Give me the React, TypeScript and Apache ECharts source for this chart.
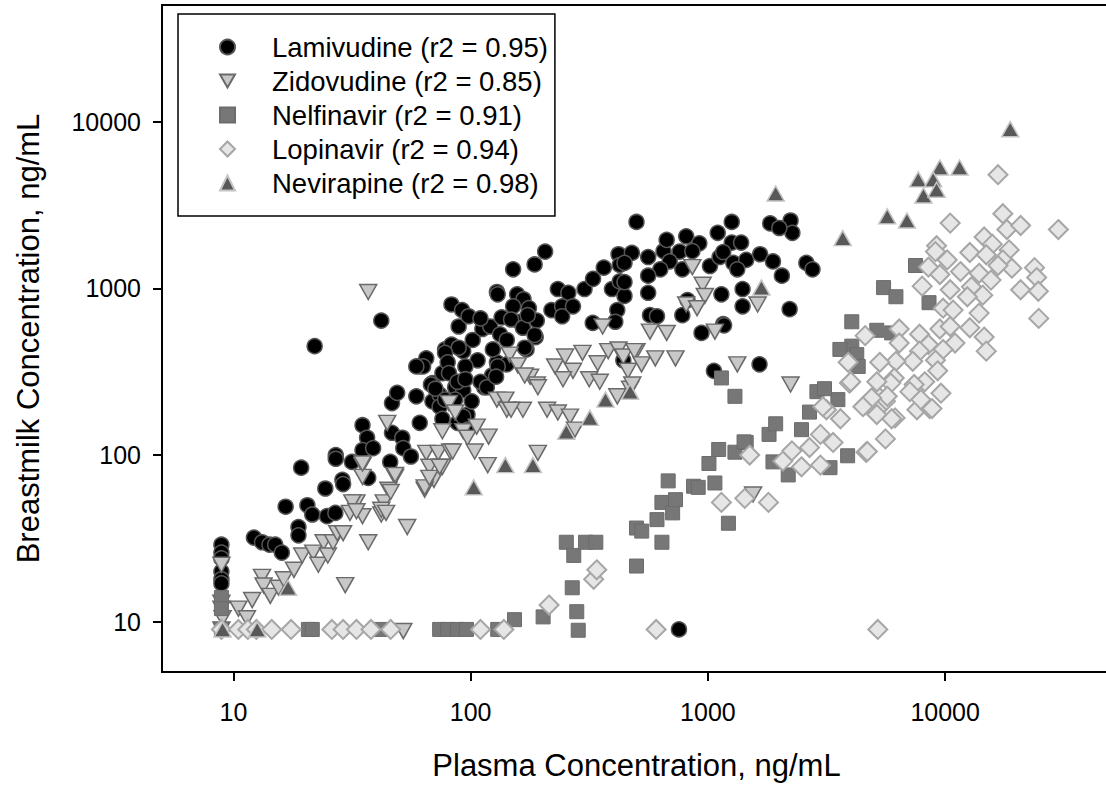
import React, { useEffect, useRef } from "react";
import * as echarts from "echarts";

// [plasma ng/mL, breastmilk ng/mL]
const lamivudine: [number, number][] = [
  [8.9, 29], [8.9, 26], [8.9, 24], [8.9, 20], [8.9, 18], [8.9, 17],
  [12.2, 32], [13.2, 30], [14.2, 29], [15, 29], [16, 26], [16.6, 49], [18.8, 37], [18.8, 33], [19.3, 84],
  [20.5, 50], [21.5, 44], [22, 450], [24.4, 63], [24.8, 43], [26.9, 45], [27, 100], [27, 95], [28.8, 71],
  [29, 67], [31.6, 91], [35, 151], [36.6, 127], [35, 107], [37, 73], [38.8, 110], [42, 640], [45.8, 91],
  [46.6, 205], [46.6, 136], [49, 236], [51.5, 127], [52, 110], [56, 98], [59, 225], [61, 156], [61, 340],
  [65, 380], [69, 270], [69, 210], [74, 230], [76, 310], [78, 430], [83, 800], [83, 460], [86, 255],
  [88, 156], [89, 590], [92, 740], [93, 420], [93, 245], [97, 175], [98, 680], [101, 210], [102, 490],
  [107, 370], [112, 570], [114, 255], [121, 590], [123, 300], [129, 360], [129, 950], [133, 530],
  [135, 670], [142, 490], [151, 1300], [157, 920], [161, 630], [167, 860], [172, 430], [176, 760],
  [186, 1390], [188, 510], [190, 640],
  [206, 1660], [130, 920], [151, 780], [233, 990], [258, 940], [219, 740], [243, 780], [243, 680],
  [270, 780], [302, 990], [328, 1140], [364, 1330], [420, 1600], [425, 1380], [478, 1630], [394, 990],
  [425, 1100], [445, 900], [415, 740], [407, 630], [327, 620], [440, 370], [500, 2500], [110, 660],
  [148, 650], [166, 580], [186, 525], [174, 690], [169, 440], [142, 350], [130, 340], [124, 430],
  [110, 275], [117, 255], [128, 295], [95, 340], [89, 440], [78, 410], [80, 360], [81, 310], [88, 275],
  [95, 285], [68, 265], [63, 340], [59, 340], [71, 250], [74, 195], [78, 215], [86, 215], [76, 165],
  [93, 170], [97, 142],
  [560, 1540], [650, 1670], [670, 1950], [810, 2050], [920, 1860], [760, 1660], [860, 1670], [690, 1450],
  [780, 1300], [630, 1300], [560, 1190], [560, 940], [445, 1420], [445, 1090], [570, 690], [610, 680],
  [780, 690], [820, 850], [1020, 1360], [1120, 1540], [1100, 2150], [1260, 2500], [1260, 1880],
  [1380, 1880], [1160, 1650], [1280, 1420], [1450, 1480], [1660, 1600], [1880, 1450], [2050, 1190],
  [1830, 2450], [2230, 2550], [2270, 2150], [2000, 2300], [2600, 1420], [2760, 1300], [1330, 1300],
  [1400, 990], [1140, 920], [1400, 780], [2210, 750], [940, 540], [1160, 610], [1060, 320], [1650, 350],
  [1170, 600], [755, 9],
];

const zidovudine: [number, number][] = [
  [37, 950], [44.5, 156], [35, 87], [35, 74], [48, 74], [45, 62], [33, 52], [35, 43], [43, 52], [42, 44],
  [54, 37], [65, 103], [67, 85], [70, 71], [64, 62], [73, 103], [76, 85], [81, 205], [82, 105], [86, 180],
  [76, 139], [93, 139], [97, 127], [104, 105], [106, 148], [118, 87], [119, 129], [129, 215], [142, 187],
  [146, 400], [158, 345], [166, 187], [178, 295], [190, 265], [192, 103], [210, 187],
  [8.9, 22], [8.9, 13], [8.9, 12], [9, 10.5], [10.5, 12], [11.4, 10.5], [12, 13.5], [13.2, 18.6],
  [13.4, 16.5], [14.3, 14.3], [15.5, 16], [16.3, 18], [18, 20.5], [19.5, 25], [21.7, 26], [22.8, 22],
  [24, 30], [25, 25], [26.3, 30], [27.4, 34], [29, 34], [29.6, 16.6], [31, 45], [31.7, 52], [33, 46],
  [35, 89], [37, 30], [42, 47], [44, 45], [46, 60], [48, 76], [52, 8.8], [64, 64], [67, 73], [74, 85],
  [84, 105],
  [360, 590], [169, 300], [192, 255], [227, 340], [250, 390], [270, 320], [245, 285], [296, 410],
  [316, 285], [350, 275], [343, 355], [380, 420], [420, 430], [440, 390], [460, 320], [500, 420],
  [415, 225], [470, 250], [140, 215], [148, 187], [233, 180], [262, 170], [275, 142],
  [860, 1340], [950, 1050], [970, 900], [810, 800], [900, 760], [1620, 800], [1070, 550], [570, 550],
  [670, 540], [490, 420], [600, 380], [730, 380], [525, 350], [1330, 350], [2230, 265], [480, 265],
  [1550, 58], [8.9, 9],
];

const nelfinavir: [number, number][] = [
  [8.9, 14], [8.9, 12], [8.9, 9], [20.7, 9], [21.5, 9], [42, 9], [74, 9], [80, 9], [88, 9], [96, 9],
  [130, 9], [153, 10.3], [202, 10.7], [280, 11.5], [284, 8.9], [268, 16], [253, 30], [272, 25], [305, 30],
  [337, 30], [500, 36.5], [500, 21.6], [526, 35], [610, 41], [640, 30], [640, 52], [680, 70], [710, 45],
  [730, 54], [870, 65], [910, 64], [1070, 68], [1010, 89], [1110, 108], [1300, 104], [1450, 119],
  [1220, 39], [1810, 133], [1930, 154], [1880, 91], [2180, 76], [2480, 142], [2680, 181], [3270, 84],
  [3880, 99], [3530, 215], [2880, 240], [3100, 250], [1300, 225], [1140, 290], [1420, 120],
  [7500, 1370], [5500, 1010], [6200, 890], [8550, 820], [4040, 630], [5150, 560], [5950, 540],
  [4040, 450], [3600, 430], [4240, 400], [4300, 340],
];

const lopinavir: [number, number][] = [
  [8.9, 9], [10.5, 9], [11.5, 9], [12.5, 9], [14.5, 9], [17.5, 9], [26, 9], [29, 9], [33, 9], [38, 9],
  [46, 9], [110, 9], [138, 9], [605, 9], [5200, 9],
  [214, 12.6], [330, 18], [340, 20.5], [1140, 52], [1430, 55], [1800, 52], [1500, 100], [2070, 92],
  [2480, 85], [2260, 106], [2680, 111], [2980, 87], [2980, 133], [3370, 119], [3160, 187], [3620, 165],
  [4640, 104], [5600, 125], [6150, 167], [7600, 187], [8600, 190], [9600, 235], [4600, 200], [5150, 230],
  [5600, 210], [3950, 270], [3050, 195], [5150, 187], [5950, 165],
  [10500, 2460], [17500, 2800], [18200, 2250], [20800, 2380], [30000, 2250], [9200, 1800], [9100, 1660],
  [10200, 1480], [8500, 1340], [9500, 1210], [8000, 1030], [10500, 980], [11600, 1260], [12700, 1640],
  [14600, 2030], [15800, 1840], [14900, 1590], [18600, 1700], [17500, 1480], [19100, 1320], [16700, 1370],
  [13900, 1230], [15600, 1120], [12900, 1020], [14400, 910], [12400, 890], [23800, 1330], [24300, 1160],
  [20800, 980], [24700, 960], [24800, 660], [9800, 760], [10800, 740], [13900, 710], [12700, 580],
  [14600, 510], [14900, 420], [11000, 470], [9500, 570], [10500, 590], [7800, 530], [8500, 460],
  [9800, 430], [6400, 570], [6400, 470], [7800, 420], [9100, 370], [9300, 320], [7300, 365], [6200, 365],
  [5300, 360], [4600, 520], [3900, 360], [6100, 290], [8200, 275], [7400, 265], [7100, 240], [7900, 215],
  [8800, 190], [5900, 270], [5150, 275], [5700, 225], [4900, 220], [4500, 195], [5150, 175], [4000, 275],
  [4700, 105], [16700, 4800],
];

const nevirapine: [number, number][] = [
  [18800, 9000], [9500, 5300], [11500, 5300], [7700, 4500], [8900, 4500], [8100, 3600], [9200, 3900],
  [5700, 2700], [6900, 2550], [3700, 2000], [1930, 3700], [1680, 1010], [370, 215], [318, 167],
  [253, 138], [470, 240], [140, 87], [183, 87], [103, 64], [17, 16], [9, 9], [12.6, 9],
];

const seriesNames = [
  "Lamivudine (r2 = 0.95)",
  "Zidovudine (r2 = 0.85)",
  "Nelfinavir (r2 = 0.91)",
  "Lopinavir (r2 = 0.94)",
  "Nevirapine (r2 = 0.98)",
];
const tickValues = [10, 100, 1000, 10000];
const axisMin = 5;
const axisMax = 50000;

const FONT = "'Liberation Sans', Arial, Helvetica, sans-serif";
const INVERTED_TRIANGLE = "path://M0,0L20,0L10,17.6Z";

export default function App() {
  const ref = useRef<HTMLDivElement>(null);
  useEffect(() => {
    const chart = echarts.init(ref.current!, null, { renderer: "svg" });
    const axisCommon = {
      type: "log",
      logBase: 10,
      min: axisMin,
      max: axisMax,
      nameLocation: "middle",
      nameMoveOverlap: false,
      nameTextStyle: { fontSize: 31, color: "#000", fontFamily: FONT },
      axisLine: { show: true, lineStyle: { color: "#000", width: 2 } },
      axisTick: { show: true, inside: false, length: 9, lineStyle: { color: "#000", width: 2 }, customValues: tickValues },
      axisLabel: {
        show: true,
        fontSize: 25,
        color: "#000",
        fontFamily: FONT,
        customValues: tickValues,
        formatter: (v: number) => String(Math.round(v)),
      },
      splitLine: { show: false },
      minorTick: { show: false },
      minorSplitLine: { show: false },
    };
    const mk = (name: string, data: [number, number][], extra: any) => ({
      name,
      type: "scatter",
      data,
      clip: false,
      emphasis: { disabled: true },
      ...extra,
    });
    chart.setOption({
      animation: false,
      backgroundColor: "#fff",
      textStyle: { fontFamily: FONT },
      grid: {
        left: 162,
        top: 5,
        width: 949,
        height: 667,
        containLabel: false,
        outerBoundsMode: "none",
        show: true,
        borderColor: "#000",
        borderWidth: 2,
        backgroundColor: "transparent",
      },
      xAxis: { ...axisCommon, name: "Plasma Concentration, ng/mL", nameGap: 78, axisLabel: { ...axisCommon.axisLabel, margin: 27 } },
      yAxis: { ...axisCommon, name: "Breastmilk Concentration, ng/mL", nameGap: 118, axisLabel: { ...axisCommon.axisLabel, margin: 21 } },
      legend: {
        data: seriesNames.map((n, i) => (i === 1 ? { name: n, icon: INVERTED_TRIANGLE } : { name: n })),
        orient: "vertical",
        left: 178,
        top: 14,
        padding: [19, 7, 19, 41],
        itemWidth: 15,
        itemHeight: 15,
        itemGap: 6,
        backgroundColor: "#fff",
        borderColor: "#000",
        borderWidth: 1.5,
        borderRadius: 0,
        selectedMode: false,
        textStyle: { fontSize: 27.5, lineHeight: 27, color: "#000", fontFamily: FONT, padding: [0, 0, 0, 32] },
      },
      series: [
        mk(seriesNames[0], lamivudine, {
          symbol: "circle",
          symbolSize: 15,
          itemStyle: { color: "#000", borderColor: "#555", borderWidth: 1.5, opacity: 1 },
        }),
        mk(seriesNames[1], zidovudine, {
          symbol: "triangle",
          symbolRotate: 180,
          symbolSize: [17, 15],
          itemStyle: { color: "#c8c8c8", borderColor: "#6a6a6a", borderWidth: 1.5, opacity: 1 },
        }),
        mk(seriesNames[2], nelfinavir, {
          symbol: "rect",
          symbolSize: 14,
          itemStyle: { color: "#777777", borderColor: "#6c6c6c", borderWidth: 1, opacity: 1 },
        }),
        mk(seriesNames[3], lopinavir, {
          symbol: "diamond",
          symbolSize: 19,
          itemStyle: { color: "#e6e6e6", borderColor: "#a6a6a6", borderWidth: 2, opacity: 1 },
        }),
        mk(seriesNames[4], nevirapine, {
          symbol: "triangle",
          symbolSize: [17, 15],
          itemStyle: { color: "#585858", borderColor: "#c4c4c4", borderWidth: 1.5, opacity: 1 },
        }),
      ],
    });
    return () => chart.dispose();
  }, []);
  return (
    <div
      ref={ref}
      style={{ position: "absolute", left: 0, top: 0, width: 1106, height: 787, background: "#fff" }}
    />
  );
}
